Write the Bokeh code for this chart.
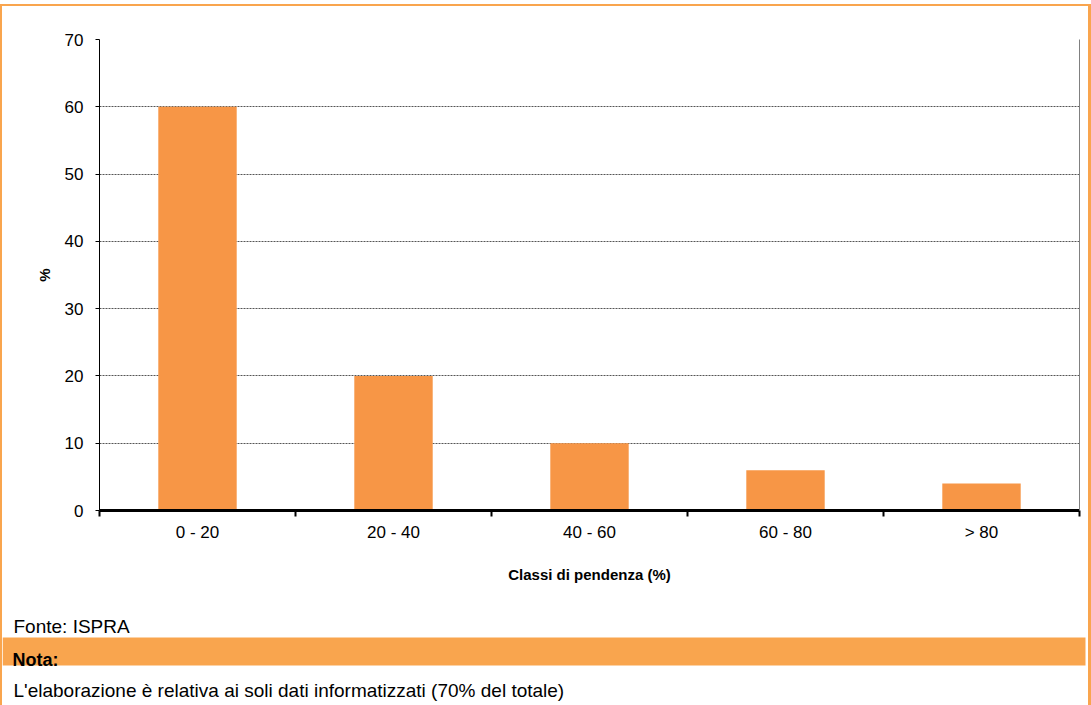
from bokeh.plotting import figure
from bokeh.layouts import column
from bokeh.models import Range1d, FixedTicker, LinearAxis, Label, BoxAnnotation
from bokeh.embed import file_html
from bokeh.resources import INLINE

categories = ["0 - 20", "20 - 40", "40 - 60", "60 - 80", "> 80"]
values = [60, 20, 10, 6, 4]
y_ticks = [0, 10, 20, 30, 40, 50, 60, 70]
x_title = "Classi di pendenza (%)"
y_title = "%"
source_text = "Fonte: ISPRA"
note_title = "Nota:"
note_text = "L'elaborazione è relativa ai soli dati informatizzati (70% del totale)"

FONT = "Liberation Sans"
BAR = "#F79646"
BAND = "#F9A54E"

n = len(categories)
centers = [i + 0.5 for i in range(n)]
bounds = [float(i) for i in range(n + 1)]

p = figure(frame_width=980, frame_height=471,
           min_border_left=97, min_border_right=9, min_border_top=33, min_border_bottom=90,
           x_range=Range1d(0, n), y_range=Range1d(0, 70),
           output_backend="svg", toolbar_location=None)
p.frame_align = False
p.outline_line_color = None
p.background_fill_color = "white"
p.border_fill_color = "white"

p.vbar(x=centers, top=values, width=0.4, fill_color=BAR, line_color=None)

# y axis
ya = p.yaxis[0]
ya.ticker = FixedTicker(ticks=y_ticks)
ya.axis_line_color = "black"
ya.axis_line_width = 1
ya.major_tick_out = 4
ya.major_tick_in = 0
ya.minor_tick_line_color = None
ya.major_label_text_font = FONT
ya.major_label_text_font_size = "17px"
ya.major_label_text_color = "black"
ya.major_label_standoff = 12
ya.axis_label = y_title
ya.axis_label_text_font = FONT
ya.axis_label_text_font_style = "bold"
ya.axis_label_text_font_size = "15px"
ya.axis_label_text_color = "black"
ya.axis_label_standoff = 9

# x axis
xa = p.xaxis[0]
xa.ticker = FixedTicker(ticks=centers, minor_ticks=bounds)
xa.major_label_overrides = {c: lab for c, lab in zip(centers, categories)}
xa.axis_line_color = "black"
xa.axis_line_width = 3
xa.major_tick_out = 0
xa.major_tick_in = 0
xa.minor_tick_out = 6
xa.minor_tick_in = 0
xa.minor_tick_line_color = "black"
xa.minor_tick_line_width = 2
xa.major_label_text_font = FONT
xa.major_label_text_font_size = "17px"
xa.major_label_text_color = "black"
xa.major_label_standoff = 6
xa.axis_label = x_title
xa.axis_label_text_font = FONT
xa.axis_label_text_font_style = "bold"
xa.axis_label_text_font_size = "15px"
xa.axis_label_text_color = "black"
xa.axis_label_standoff = 21

# right border of plot area
ra = LinearAxis(ticker=FixedTicker(ticks=[]), major_label_text_font_size="0px",
                axis_line_color="#808080", axis_line_width=1,
                major_tick_line_color=None, minor_tick_line_color=None)
p.add_layout(ra, "right")

# grid
p.xgrid.grid_line_color = None
p.ygrid.ticker = FixedTicker(ticks=y_ticks[1:])
p.ygrid.grid_line_color = "#555555"
p.ygrid.grid_line_dash = "2 1"
p.ygrid.grid_line_width = 1

# footer panel
f = figure(width=1086, height=105, x_range=Range1d(0, 1086), y_range=Range1d(105, 0),
           min_border=0, output_backend="svg", toolbar_location=None)
f.frame_align = False
f.axis.visible = False
f.grid.visible = False
f.outline_line_color = None
f.add_layout(BoxAnnotation(left=0, right=1083, top=37, bottom=65,
                           fill_color=BAND, fill_alpha=1, line_color=None))
f.add_layout(Label(x=11, y=26, text=source_text,
                   text_font=FONT, text_font_size="19px", text_color="black",
                   text_baseline="alphabetic"))
f.add_layout(Label(x=10, y=59, text=note_title,
                   text_font=FONT, text_font_style="bold", text_font_size="18px",
                   text_color="black", text_baseline="alphabetic"))
f.add_layout(Label(x=11, y=90, text=note_text,
                   text_font=FONT, text_font_size="19px", text_color="black",
                   text_baseline="alphabetic"))

layout = column(p, f, spacing=0,
                styles={"border-left": "2px solid #F9A54E",
                        "border-right": "3px solid #F9A54E",
                        "border-top": "2px solid #F9A54E",
                        "margin-top": "4px"})

open("out.html", "w").write(file_html(layout, INLINE))
